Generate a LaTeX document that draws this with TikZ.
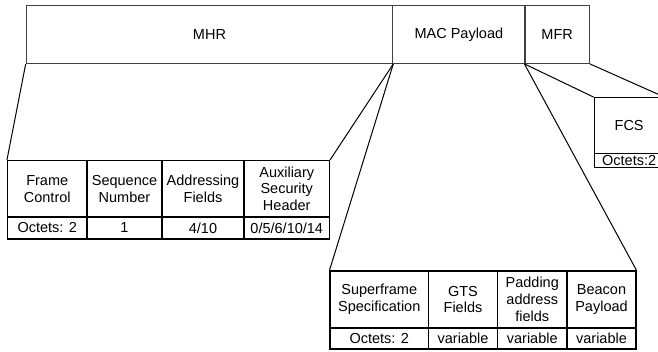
\documentclass[tikz,border=0pt]{standalone}
\usepackage{fontspec}
\setmainfont{Liberation Sans}
\begin{document}
\begin{tikzpicture}[x=1pt,y=-1pt,
  cell/.style={draw=black, line width=1.1pt, rectangle, inner sep=0pt, align=center,
    font=\fontsize{14.5}{16.8}\selectfont},
  barcell/.style={cell, draw=black!75, line width=1.2pt},
  link/.style={draw=black, line width=1pt}]
\clip (0,0) rectangle (658,351);
\useasboundingbox (0,0) rectangle (658,351);

% frame header bar
\node[barcell, minimum width=366.4pt, minimum height=57.6pt] (mhr) at (209.5,34.5) {MHR};
\node[barcell, minimum width=132.3pt, minimum height=57.6pt] (mac) at (458.85,34.5) {MAC Payload};
\node[barcell, minimum width=64.3pt,  minimum height=57.6pt] (mfr) at (557.15,34.5) {MFR};

% MHR fields
\node[cell, minimum width=79.5pt, minimum height=56.5pt] (fc)  at (47.25,188.75) {Frame\\Control};
\node[cell, minimum width=75pt,   minimum height=56.5pt] (sn)  at (124.5,188.75) {Sequence\\Number};
\node[cell, minimum width=82pt,   minimum height=56.5pt] (af)  at (203,188.75)   {Addressing\\Fields};
\node[cell, minimum width=85.5pt, minimum height=56.5pt] (ash) at (286.75,188.75) {Auxiliary\\Security\\Header};
\node[cell, minimum width=79.5pt, minimum height=22pt] (fco)  at (47.25,228)  {Octets: 2};
\node[cell, minimum width=75pt,   minimum height=22pt] (sno)  at (124.5,228)  {1};
\node[cell, minimum width=82pt,   minimum height=22pt] (afo)  at (203,228)    {4/10};
\node[cell, minimum width=85.5pt, minimum height=22pt] (asho) at (286.75,228) {0/5/6/10/14};

% MAC payload fields
\node[cell, minimum width=98.5pt, minimum height=57pt] (sf)  at (379.25,299.5) {Superframe\\Specification};
\node[cell, minimum width=69pt,   minimum height=57pt] (gts) at (463,299.5)    {GTS\\Fields};
\node[cell, minimum width=69.5pt, minimum height=57pt] (pad) at (532.25,299.5) {Padding\\address\\fields};
\node[cell, minimum width=69pt,   minimum height=57pt] (bp)  at (601.5,299.5)  {Beacon\\Payload};
\node[cell, minimum width=98.5pt, minimum height=21pt] (sfo)  at (379.25,338.5) {Octets: 2};
\node[cell, minimum width=69pt,   minimum height=21pt] (gtso) at (463,338.5)    {variable};
\node[cell, minimum width=69.5pt, minimum height=21pt] (pado) at (532.25,338.5) {variable};
\node[cell, minimum width=69pt,   minimum height=21pt] (bpo)  at (601.5,338.5)  {variable};

% MFR field
\node[cell, minimum width=69.7pt, minimum height=55.6pt] (fcs)  at (629.15,125.5) {FCS};
\node[cell, minimum width=69.7pt, minimum height=14pt]   (fcso) at (629.15,160.3) {Octets:2};

% expansion lines
\draw[link] (mhr.south west) -- (fc.north west);
\draw[link] (mhr.south east) -- (ash.north east);
\draw[link] (mhr.south east) -- (sf.north west);
\draw[link] (mfr.south west) -- (bp.north east);
\draw[link] (mfr.south west) -- (fcs.north west);
\draw[link] (mfr.south east) -- (fcs.north east);
\end{tikzpicture}
\end{document}
